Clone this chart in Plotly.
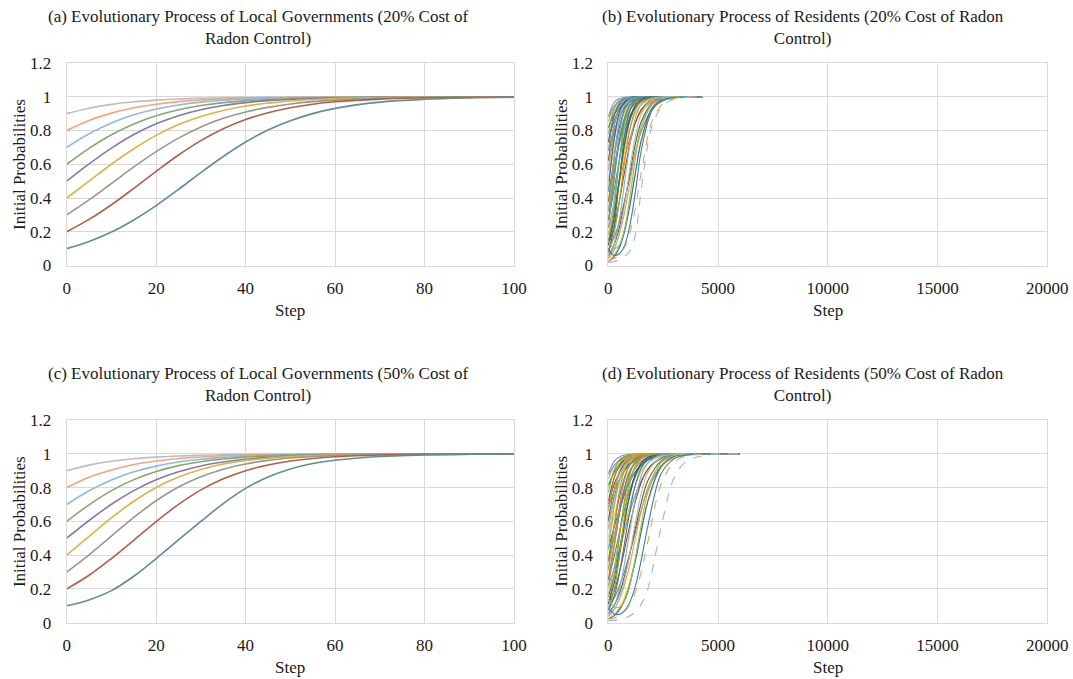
import plotly.graph_objects as go

# ---------------- Panel (a): local governments, 20% cost ----------------
steps_a = [0, 5, 10, 15, 20, 25, 30, 35, 40, 45, 50, 55, 60, 70, 80, 90, 100]
a_09 = [0.900, 0.932, 0.955, 0.970, 0.980, 0.987, 0.991, 0.994, 0.996, 0.997, 0.998, 0.999, 0.999, 1.0, 1.0, 1.0, 1.0]
a_08 = [0.800, 0.860, 0.903, 0.935, 0.956, 0.971, 0.981, 0.987, 0.992, 0.995, 0.996, 0.997, 0.998, 0.999, 1.0, 1.0, 1.0]
a_07 = [0.700, 0.781, 0.845, 0.893, 0.927, 0.951, 0.968, 0.979, 0.986, 0.991, 0.994, 0.996, 0.997, 0.999, 1.0, 1.0, 1.0]
a_06 = [0.600, 0.694, 0.775, 0.839, 0.887, 0.923, 0.948, 0.965, 0.976, 0.984, 0.990, 0.993, 0.995, 0.998, 0.999, 1.0, 1.0]
a_05 = [0.500, 0.602, 0.696, 0.776, 0.840, 0.888, 0.923, 0.948, 0.965, 0.977, 0.984, 0.990, 0.993, 0.997, 0.999, 1.0, 1.0]
a_04 = [0.400, 0.500, 0.600, 0.692, 0.771, 0.835, 0.883, 0.919, 0.945, 0.962, 0.975, 0.983, 0.989, 0.995, 0.998, 0.999, 1.0]
a_03 = [0.300, 0.389, 0.486, 0.584, 0.675, 0.755, 0.821, 0.872, 0.910, 0.937, 0.957, 0.971, 0.980, 0.991, 0.996, 0.998, 0.999]
a_02 = [0.200, 0.273, 0.360, 0.457, 0.558, 0.655, 0.740, 0.810, 0.865, 0.905, 0.935, 0.956, 0.970, 0.986, 0.994, 0.997, 0.999]
a_01 = [0.100, 0.142, 0.198, 0.270, 0.355, 0.451, 0.551, 0.646, 0.732, 0.803, 0.858, 0.900, 0.931, 0.968, 0.985, 0.993, 0.997]

# ---------------- Panel (c): local governments, 50% cost ----------------
steps_c = [0, 5, 10, 15, 20, 25, 30, 35, 40, 45, 50, 55, 60, 70, 80, 90, 100]
c_09 = [0.900, 0.933, 0.956, 0.971, 0.980, 0.987, 0.991, 0.994, 0.996, 0.997, 0.998, 0.999, 0.999, 1.0, 1.0, 1.0, 1.0]
c_08 = [0.800, 0.861, 0.904, 0.936, 0.957, 0.972, 0.981, 0.988, 0.992, 0.995, 0.996, 0.997, 0.998, 0.999, 1.0, 1.0, 1.0]
c_07 = [0.700, 0.781, 0.845, 0.893, 0.927, 0.951, 0.968, 0.979, 0.986, 0.991, 0.994, 0.996, 0.997, 0.999, 1.0, 1.0, 1.0]
c_06 = [0.600, 0.698, 0.782, 0.847, 0.895, 0.930, 0.953, 0.969, 0.980, 0.987, 0.991, 0.994, 0.996, 0.998, 0.999, 1.0, 1.0]
c_05 = [0.500, 0.605, 0.701, 0.782, 0.846, 0.893, 0.928, 0.951, 0.968, 0.979, 0.986, 0.991, 0.994, 0.997, 0.999, 1.0, 1.0]
c_04 = [0.400, 0.511, 0.620, 0.719, 0.800, 0.862, 0.907, 0.939, 0.960, 0.974, 0.983, 0.989, 0.993, 0.997, 0.999, 1.0, 1.0]
c_03 = [0.300, 0.402, 0.513, 0.623, 0.722, 0.803, 0.864, 0.909, 0.940, 0.961, 0.975, 0.984, 0.990, 0.996, 0.998, 0.999, 1.0]
c_02 = [0.200, 0.281, 0.380, 0.488, 0.599, 0.700, 0.786, 0.852, 0.900, 0.934, 0.957, 0.972, 0.982, 0.993, 0.997, 0.999, 1.0]
c_01 = [0.100, 0.135, 0.190, 0.275, 0.380, 0.490, 0.600, 0.705, 0.795, 0.862, 0.910, 0.942, 0.962, 0.984, 0.993, 0.997, 0.999]

level_names = ["0.9", "0.8", "0.7", "0.6", "0.5", "0.4", "0.3", "0.2", "0.1"]
level_colors = ["#BDBDBD", "#F6A37A", "#8DB9E4", "#86A96A", "#8579AB",
                "#DDB441", "#949A8C", "#B45F45", "#5E8E95"]

# ---------------- Panel (b): residents, 20% cost ----------------
steps_b = [0, 250, 500, 750, 1000, 1250, 1500, 2000, 2500, 3000, 4300]
b_high = [
    [0.881, 0.963, 0.989, 0.997, 0.999, 1, 1, 1, 1, 1, 1],
    [0.881, 0.940, 0.971, 0.986, 0.993, 0.997, 0.998, 1, 1, 1, 1],
    [0.852, 0.940, 0.977, 0.991, 0.997, 0.999, 1, 1, 1, 1, 1],
    [0.818, 0.905, 0.953, 0.977, 0.989, 0.995, 0.998, 0.999, 1, 1, 1],
    [0.818, 0.891, 0.937, 0.964, 0.980, 0.989, 0.994, 0.998, 1, 1, 1],
    [0.777, 0.924, 0.977, 0.993, 0.998, 1, 1, 1, 1, 1, 1],
    [0.731, 0.881, 0.953, 0.982, 0.993, 0.998, 0.999, 1, 1, 1, 1],
    [0.731, 0.852, 0.924, 0.963, 0.982, 0.991, 0.996, 0.999, 1, 1, 1],
    [0.679, 0.881, 0.963, 0.989, 0.997, 1, 1, 1, 1, 1, 1],
    [0.679, 0.794, 0.875, 0.928, 0.959, 0.977, 0.987, 0.996, 0.999, 1, 1],
]
b_mid = [
    [0.622, 0.818, 0.924, 0.971, 0.989, 0.996, 0.998, 1, 1, 1, 1],
    [0.622, 0.777, 0.881, 0.940, 0.971, 0.986, 0.993, 0.998, 1, 1, 1],
    [0.562, 0.818, 0.940, 0.982, 0.995, 0.998, 1, 1, 1, 1, 1],
    [0.562, 0.760, 0.886, 0.950, 0.979, 0.991, 0.996, 1, 1, 1, 1],
    [0.500, 0.731, 0.881, 0.953, 0.982, 0.993, 0.998, 1, 1, 1, 1],
    [0.500, 0.679, 0.818, 0.905, 0.953, 0.977, 0.989, 0.998, 0.999, 1, 1],
    [0.438, 0.731, 0.905, 0.971, 0.991, 0.998, 1, 1, 1, 1, 1],
    [0.438, 0.587, 0.721, 0.825, 0.896, 0.940, 0.966, 0.990, 0.997, 0.999, 1],
    [0.378, 0.622, 0.818, 0.924, 0.971, 0.989, 0.996, 0.999, 1, 1, 1],
    [0.378, 0.562, 0.731, 0.852, 0.924, 0.963, 0.982, 0.996, 0.999, 1, 1],
]
b_low = [
    [0.321, 0.622, 0.852, 0.953, 0.986, 0.996, 0.999, 1, 1, 1, 1],
    [0.321, 0.537, 0.741, 0.875, 0.945, 0.977, 0.991, 0.998, 1, 1, 1],
    [0.269, 0.500, 0.731, 0.881, 0.953, 0.982, 0.993, 0.999, 1, 1, 1],
    [0.269, 0.438, 0.622, 0.777, 0.881, 0.940, 0.971, 0.993, 0.998, 1, 1],
    [0.223, 0.500, 0.777, 0.924, 0.977, 0.993, 0.998, 1, 1, 1, 1],
    [0.223, 0.343, 0.488, 0.634, 0.760, 0.852, 0.913, 0.972, 0.991, 0.997, 1],
    [0.182, 0.378, 0.622, 0.818, 0.924, 0.971, 0.989, 0.998, 1, 1, 1],
    [0.182, 0.321, 0.500, 0.679, 0.818, 0.905, 0.953, 0.989, 0.998, 0.999, 1],
    [0.148, 0.299, 0.512, 0.721, 0.864, 0.940, 0.975, 0.996, 1, 1, 1],
    [0.119, 0.321, 0.622, 0.852, 0.953, 0.986, 0.996, 1, 1, 1, 1],
    [0.119, 0.269, 0.500, 0.731, 0.881, 0.953, 0.982, 0.998, 1, 1, 1],
    [0.119, 0.223, 0.378, 0.562, 0.731, 0.852, 0.924, 0.982, 0.996, 0.999, 1],
]
b_vlow = [
    [0.095, 0.161, 0.259, 0.389, 0.537, 0.679, 0.794, 0.928, 0.977, 0.993, 1],
    [0.076, 0.182, 0.378, 0.622, 0.818, 0.924, 0.971, 0.996, 0.999, 1, 1],
    [0.076, 0.223, 0.500, 0.777, 0.924, 0.977, 0.993, 1, 1, 1, 1],
    [0.060, 0.119, 0.223, 0.378, 0.562, 0.731, 0.852, 0.963, 0.991, 0.998, 1],
    [0.047, 0.119, 0.269, 0.500, 0.731, 0.881, 0.953, 0.993, 0.999, 1, 1],
    [0.047, 0.095, 0.182, 0.321, 0.500, 0.679, 0.818, 0.953, 0.989, 0.998, 1],
    [0.037, 0.087, 0.190, 0.366, 0.587, 0.777, 0.896, 0.981, 0.997, 1, 1],
    [0.029, 0.060, 0.119, 0.223, 0.378, 0.562, 0.731, 0.924, 0.982, 0.996, 1],
    [0.023, 0.050, 0.104, 0.206, 0.366, 0.562, 0.741, 0.934, 0.986, 0.997, 1],
    [0.150, 0.100, 0.120, 0.220, 0.420, 0.650, 0.820, 0.960, 0.990, 1, 1],
    [0.100, 0.060, 0.070, 0.120, 0.250, 0.450, 0.680, 0.920, 0.980, 0.996, 1],
    [0.030, 0.040, 0.065, 0.110, 0.200, 0.350, 0.550, 0.860, 0.960, 0.990, 1],
    [0.018, 0.022, 0.035, 0.055, 0.090, 0.190, 0.450, 0.830, 0.950, 0.985, 1],
]

# ---------------- Panel (d): residents, 50% cost ----------------
steps_d = [0, 300, 600, 900, 1200, 1500, 1800, 2400, 3000, 3600, 4800, 6000]
d_high = [
    [0.885, 0.960, 0.987, 0.996, 0.999, 1, 1, 1, 1, 1, 1, 1],
    [0.875, 0.935, 0.968, 0.984, 0.992, 0.996, 0.998, 1, 1, 1, 1, 1],
    [0.850, 0.935, 0.974, 0.990, 0.996, 0.999, 1, 1, 1, 1, 1, 1],
    [0.820, 0.890, 0.935, 0.962, 0.979, 0.988, 0.994, 0.998, 1, 1, 1, 1],
    [0.810, 0.900, 0.950, 0.975, 0.988, 0.994, 0.997, 0.999, 1, 1, 1, 1],
    [0.770, 0.915, 0.972, 0.991, 0.997, 0.999, 1, 1, 1, 1, 1, 1],
    [0.720, 0.870, 0.946, 0.978, 0.991, 0.997, 0.999, 1, 1, 1, 1, 1],
    [0.700, 0.830, 0.910, 0.955, 0.978, 0.989, 0.995, 0.999, 1, 1, 1, 1],
    [0.680, 0.790, 0.870, 0.925, 0.957, 0.976, 0.986, 0.996, 0.999, 1, 1, 1],
    [0.660, 0.870, 0.958, 0.987, 0.996, 0.999, 1, 1, 1, 1, 1, 1],
]
d_mid = [
    [0.610, 0.800, 0.915, 0.966, 0.987, 0.995, 0.998, 1, 1, 1, 1, 1],
    [0.600, 0.760, 0.870, 0.933, 0.967, 0.984, 0.992, 0.998, 1, 1, 1, 1],
    [0.560, 0.750, 0.878, 0.945, 0.976, 0.990, 0.995, 0.999, 1, 1, 1, 1],
    [0.550, 0.800, 0.930, 0.978, 0.993, 0.998, 1, 1, 1, 1, 1, 1],
    [0.500, 0.720, 0.870, 0.947, 0.979, 0.992, 0.997, 1, 1, 1, 1, 1],
    [0.480, 0.650, 0.790, 0.885, 0.940, 0.970, 0.985, 0.997, 0.999, 1, 1, 1],
    [0.440, 0.580, 0.710, 0.815, 0.888, 0.935, 0.962, 0.988, 0.996, 0.999, 1, 1],
    [0.430, 0.710, 0.890, 0.965, 0.989, 0.997, 0.999, 1, 1, 1, 1, 1],
    [0.370, 0.600, 0.800, 0.915, 0.967, 0.987, 0.995, 0.999, 1, 1, 1, 1],
    [0.360, 0.530, 0.700, 0.830, 0.910, 0.955, 0.978, 0.995, 0.999, 1, 1, 1],
]
d_low = [
    [0.320, 0.530, 0.730, 0.865, 0.940, 0.975, 0.990, 0.998, 1, 1, 1, 1],
    [0.310, 0.600, 0.840, 0.948, 0.984, 0.995, 0.999, 1, 1, 1, 1, 1],
    [0.260, 0.480, 0.710, 0.870, 0.947, 0.979, 0.992, 0.999, 1, 1, 1, 1],
    [0.250, 0.410, 0.590, 0.750, 0.860, 0.930, 0.965, 0.992, 0.998, 1, 1, 1],
    [0.220, 0.335, 0.475, 0.620, 0.745, 0.840, 0.905, 0.970, 0.990, 0.997, 1, 1],
    [0.210, 0.480, 0.760, 0.915, 0.974, 0.992, 0.998, 1, 1, 1, 1, 1],
    [0.170, 0.350, 0.600, 0.800, 0.915, 0.967, 0.987, 0.998, 1, 1, 1, 1],
    [0.170, 0.300, 0.470, 0.650, 0.800, 0.895, 0.946, 0.987, 0.997, 0.999, 1, 1],
    [0.150, 0.290, 0.500, 0.710, 0.855, 0.935, 0.972, 0.995, 1, 1, 1, 1],
    [0.110, 0.300, 0.600, 0.840, 0.948, 0.984, 0.995, 1, 1, 1, 1, 1],
    [0.110, 0.250, 0.470, 0.710, 0.870, 0.945, 0.979, 0.997, 1, 1, 1, 1],
    [0.110, 0.200, 0.350, 0.530, 0.700, 0.830, 0.910, 0.977, 0.995, 0.999, 1, 1],
]
d_vlow = [
    [0.095, 0.155, 0.250, 0.375, 0.520, 0.665, 0.785, 0.925, 0.975, 0.992, 1, 1],
    [0.075, 0.215, 0.490, 0.770, 0.920, 0.975, 0.992, 1, 1, 1, 1, 1],
    [0.070, 0.170, 0.360, 0.600, 0.800, 0.915, 0.966, 0.995, 0.999, 1, 1, 1],
    [0.055, 0.110, 0.210, 0.360, 0.540, 0.710, 0.840, 0.957, 0.990, 0.998, 1, 1],
    [0.045, 0.110, 0.250, 0.480, 0.710, 0.870, 0.945, 0.992, 0.999, 1, 1, 1],
    [0.040, 0.085, 0.170, 0.300, 0.480, 0.660, 0.800, 0.945, 0.987, 0.997, 1, 1],
    [0.035, 0.082, 0.180, 0.350, 0.570, 0.765, 0.890, 0.980, 0.997, 1, 1, 1],
    [0.025, 0.055, 0.110, 0.210, 0.360, 0.540, 0.710, 0.915, 0.978, 0.995, 1, 1],
    [0.022, 0.045, 0.095, 0.190, 0.345, 0.540, 0.720, 0.925, 0.984, 0.997, 1, 1],
    [0.140, 0.090, 0.100, 0.180, 0.360, 0.580, 0.770, 0.950, 0.990, 0.998, 1, 1],
    [0.090, 0.050, 0.055, 0.100, 0.200, 0.370, 0.570, 0.880, 0.970, 0.994, 1, 1],
    [0.020, 0.030, 0.050, 0.090, 0.170, 0.300, 0.480, 0.820, 0.950, 0.988, 0.999, 1],
    [0.012, 0.015, 0.022, 0.035, 0.060, 0.110, 0.200, 0.560, 0.860, 0.960, 0.997, 1],
]

bundle_colors = ["#5B9BD5", "#ED7D31", "#A5A5A5", "#FFC000", "#2E7D8C", "#70AD47",
                 "#255E91", "#9E480E", "#7F7F7F", "#C49A00", "#3A7A8A", "#43682B",
                 "#7CAFDD", "#F1975A", "#B7B7B7", "#FFCD33", "#2F6F80", "#8CC168",
                 "#327DC2", "#D26012", "#9A9A9A", "#CC9A00", "#3B8696", "#5A8A39"]

titles = [
    "(a) Evolutionary Process of Local Governments (20% Cost of<br>Radon Control)",
    "(b) Evolutionary Process of Residents (20% Cost of Radon<br>Control)",
    "(c) Evolutionary Process of Local Governments (50% Cost of<br>Radon Control)",
    "(d) Evolutionary Process of Residents (50% Cost of Radon<br>Control)",
]

FONT = "Liberation Serif, Times New Roman, serif"
FS = 17
W, H = 1073, 679

fig = go.Figure()

def add_levels(steps, series, xa, ya):
    for name, ys, col in zip(level_names, series, level_colors):
        fig.add_trace(go.Scatter(x=steps, y=ys, mode="lines", name=name,
                                 line=dict(color=col, width=1.6, shape="spline", smoothing=1.0),
                                 xaxis=xa, yaxis=ya, showlegend=False, hoverinfo="skip"))

def add_bundle(steps, groups, xa, ya):
    curves = [c for g in groups for c in g]
    n = len(curves)
    for i, ys in enumerate(curves):
        if i == n - 1:
            col, dash = "#8FB8E6", "dash"
        elif i == n - 2:
            col, dash = "#F0A060", "dash"
        else:
            col, dash = bundle_colors[i % len(bundle_colors)], "solid"
        fig.add_trace(go.Scatter(x=steps, y=ys, mode="lines",
                                 line=dict(color=col, width=1.1, shape="spline", smoothing=0.9, dash=dash),
                                 xaxis=xa, yaxis=ya, showlegend=False, hoverinfo="skip"))

add_levels(steps_a, [a_09, a_08, a_07, a_06, a_05, a_04, a_03, a_02, a_01], "x", "y")
add_bundle(steps_b, [b_high, b_mid, b_low, b_vlow], "x2", "y2")
add_levels(steps_c, [c_09, c_08, c_07, c_06, c_05, c_04, c_03, c_02, c_01], "x3", "y3")
add_bundle(steps_d, [d_high, d_mid, d_low, d_vlow], "x4", "y4")

# plot-area positions (pixels)
left_x = [66.7, 514.0]
right_x = [608.3, 1047.3]
top_y = [63.0, 265.5]
bot_y = [420.0, 622.7]

def xd(px):
    return [px[0] / W, px[1] / W]

def yd(py):
    return [1 - py[1] / H, 1 - py[0] / H]

grid = "#D9D9D9"
tickfont = dict(family=FONT, size=FS, color="#1a1a1a")

def xaxis_cfg(domain, anchor, rng, tickvals):
    return dict(domain=domain, anchor=anchor, range=rng, tickvals=tickvals,
                ticktext=[str(v) for v in tickvals], showgrid=True, gridcolor=grid,
                gridwidth=1, zeroline=False, showline=True, linecolor=grid, mirror=True,
                ticks="", tickfont=tickfont, ticklabelstandoff=7, automargin=False,
                fixedrange=True)

def yaxis_cfg(domain, anchor):
    vals = [0, 0.2, 0.4, 0.6, 0.8, 1, 1.2]
    return dict(domain=domain, anchor=anchor, range=[0, 1.2], tickvals=vals,
                ticktext=["0", "0.2", "0.4", "0.6", "0.8", "1", "1.2"], showgrid=True,
                gridcolor=grid, gridwidth=1, zeroline=False, showline=True, linecolor=grid,
                mirror=True, ticks="", tickfont=tickfont, ticklabelstandoff=11,
                automargin=False, fixedrange=True)

fig.update_layout(
    template="none",
    width=W, height=H, autosize=False,
    margin=dict(l=0, r=0, t=0, b=0, pad=0, autoexpand=False),
    paper_bgcolor="white", plot_bgcolor="white",
    font=dict(family=FONT, size=FS, color="#1a1a1a"),
    xaxis=xaxis_cfg(xd(left_x), "y", [0, 100], [0, 20, 40, 60, 80, 100]),
    yaxis=yaxis_cfg(yd(top_y), "x"),
    xaxis2=xaxis_cfg(xd(right_x), "y2", [0, 20000], [0, 5000, 10000, 15000, 20000]),
    yaxis2=yaxis_cfg(yd(top_y), "x2"),
    xaxis3=xaxis_cfg(xd(left_x), "y3", [0, 100], [0, 20, 40, 60, 80, 100]),
    yaxis3=yaxis_cfg(yd(bot_y), "x3"),
    xaxis4=xaxis_cfg(xd(right_x), "y4", [0, 20000], [0, 5000, 10000, 15000, 20000]),
    yaxis4=yaxis_cfg(yd(bot_y), "x4"),
)

annotations = []
title_centers = [(258, 27.8), (803, 27.8), (258, 384.8), (803, 384.8)]
for t, (cx, cy) in zip(titles, title_centers):
    annotations.append(dict(text=t, x=cx / W, y=1 - cy / H, xref="paper", yref="paper",
                            xanchor="center", yanchor="middle", showarrow=False,
                            font=dict(family=FONT, size=FS, color="#1a1a1a")))

for (px, py) in [(left_x, top_y), (right_x, top_y), (left_x, bot_y), (right_x, bot_y)]:
    annotations.append(dict(text="Step", x=(px[0] + px[1]) / 2 / W, y=1 - (py[1] + 45) / H,
                            xref="paper", yref="paper", xanchor="center", yanchor="middle",
                            showarrow=False, font=dict(family=FONT, size=FS, color="#1a1a1a")))
    annotations.append(dict(text="Initial Probabilities", x=(px[0] - 47) / W,
                            y=1 - (py[0] + py[1]) / 2 / H, xref="paper", yref="paper",
                            xanchor="center", yanchor="middle", textangle=-90, showarrow=False,
                            font=dict(family=FONT, size=FS, color="#1a1a1a")))

fig.update_layout(annotations=annotations)

fig.write_html("out.html")
